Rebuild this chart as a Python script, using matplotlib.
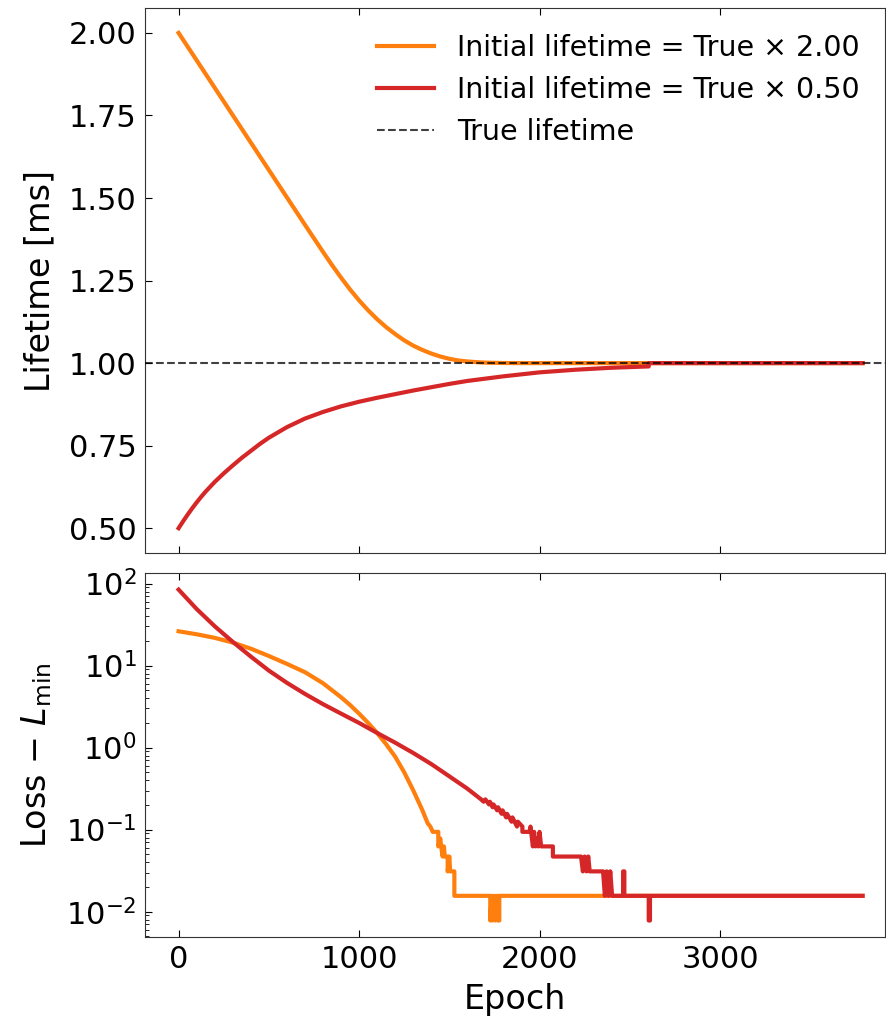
import matplotlib
matplotlib.use("Agg")
import matplotlib.pyplot as plt

orange = 'tab:orange'
red = 'tab:red'

# lifetime vs epoch (top panel)
ep_life_hi = [0, 200, 400, 600, 700, 800, 850, 900, 950, 1000, 1050, 1100, 1150,
              1200, 1250, 1300, 1350, 1400, 1450, 1500, 1550, 1600, 1650, 1700,
              1800, 1900, 3790]
life_hi = [2.000, 1.834, 1.668, 1.502, 1.419, 1.337, 1.297, 1.259, 1.223, 1.190,
           1.160, 1.133, 1.109, 1.088, 1.069, 1.053, 1.040, 1.029, 1.020, 1.013,
           1.008, 1.005, 1.003, 1.0015, 1.0003, 1.000, 1.000]

ep_life_lo = [0, 25, 50, 75, 100, 125, 150, 200, 250, 300, 350, 400, 450, 500,
              600, 700, 800, 900, 1000, 1100, 1200, 1300, 1400, 1500, 1600, 1800,
              2000, 2200, 2400, 2605, 2605, 3790]
life_lo = [0.500, 0.521, 0.541, 0.560, 0.578, 0.595, 0.611, 0.640, 0.666, 0.690,
           0.713, 0.734, 0.755, 0.774, 0.806, 0.832, 0.852, 0.869, 0.883, 0.895,
           0.906, 0.917, 0.927, 0.937, 0.946, 0.960, 0.972, 0.980, 0.986, 0.990,
           1.000, 1.000]

true_lifetime = 1.0

# loss - L_min vs epoch (bottom panel)
ep_loss_hi = [0, 100, 200, 300, 400, 500, 600, 700, 800, 900, 950, 1000, 1050,
              1100, 1150, 1200, 1250, 1300, 1350, 1380, 1395, 1408, 1439, 1439,
              1450, 1455, 1463, 1470, 1475, 1491, 1491, 1500, 1505, 1528, 1528,
              1727, 1727, 1735, 1740, 1750, 1755, 1765, 1770, 1777, 1777, 3790]
loss_hi = [26.2, 24.1, 21.8, 19.1, 16.1, 13.1, 10.5, 8.32, 6.10, 4.12, 3.31, 2.60,
           2.00, 1.51, 1.10, 0.776, 0.501, 0.302, 0.174, 0.12, 0.109, 0.094,
           0.094, 0.0625, 0.078, 0.0625, 0.047, 0.0625, 0.047, 0.047, 0.031,
           0.047, 0.031, 0.031, 0.0156, 0.0156, 0.0078, 0.0156, 0.0078, 0.0156,
           0.0078, 0.0156, 0.0078, 0.0078, 0.0156, 0.0156]

ep_loss_lo = [0, 100, 200, 300, 400, 500, 600, 700, 800, 900, 1000, 1100, 1200,
              1300, 1400, 1500, 1600, 1676, 1690, 1700, 1720, 1725, 1740, 1745,
              1765, 1770, 1790, 1795, 1815, 1820, 1845, 1850, 1875, 1880, 1905,
              1905, 1944, 1950, 1963, 1970, 1978, 1985, 1993, 2000, 2009, 2074,
              2074, 2230, 2240, 2250, 2260, 2270, 2278, 2352, 2362, 2372, 2382,
              2392, 2402, 2417, 2463, 2463, 2470, 2470, 2605, 2605, 2612, 2612, 3790]
loss_lo = [84.5, 49.0, 30.2, 19.5, 12.9, 8.7, 6.17, 4.52, 3.39, 2.60, 2.00, 1.51,
           1.15, 0.861, 0.631, 0.447, 0.316, 0.234, 0.219, 0.234, 0.203, 0.219,
           0.1875, 0.203, 0.172, 0.1875, 0.156, 0.172, 0.141, 0.156, 0.125, 0.141,
           0.109, 0.125, 0.109, 0.094, 0.094, 0.109, 0.0625, 0.094, 0.0625,
           0.078, 0.0625, 0.094, 0.0625, 0.0625, 0.047, 0.047, 0.031, 0.047,
           0.031, 0.047, 0.031, 0.031, 0.0156, 0.031, 0.0156, 0.031, 0.0156,
           0.0156, 0.0156, 0.031, 0.031, 0.0156, 0.0156, 0.0078, 0.0078, 0.0156,
           0.0156]

fig = plt.figure(figsize=(8.87, 10.18), dpi=100)
ax1 = fig.add_axes([0.1635, 0.4568, 0.8342, 0.5352])
ax2 = fig.add_axes([0.1635, 0.0795, 0.8342, 0.3576], sharex=ax1)

ax1.plot(ep_life_hi, life_hi, color=orange, lw=3, label='Initial lifetime = True \u00d7 2.00')
ax1.plot(ep_life_lo, life_lo, color=red, lw=3, label='Initial lifetime = True \u00d7 0.50')
ax1.axhline(true_lifetime, color='k', ls='--', lw=1.5, alpha=0.75, zorder=5, label='True lifetime')
ax1.set_ylabel('Lifetime [ms]', fontsize=24, labelpad=9)
ax1.legend(loc='upper right', frameon=False, fontsize=20.5)
ax1.set_yticks([0.5, 0.75, 1.0, 1.25, 1.5, 1.75, 2.0])
ax1.yaxis.set_major_formatter(matplotlib.ticker.FormatStrFormatter('%.2f'))
plt.setp(ax1.get_xticklabels(), visible=False)

ax2.plot(ep_loss_hi, loss_hi, color=orange, lw=3)
ax2.plot(ep_loss_lo, loss_lo, color=red, lw=3)
ax2.set_yscale('log')
ax2.set_ylabel(r'Loss $-$ $L_{\rm min}$', fontsize=24, labelpad=9)
ax2.set_xlabel('Epoch', fontsize=24, labelpad=6)
ax2.set_xlim(-186, 3914)
ax2.set_xticks([0, 1000, 2000, 3000])

for ax in (ax1, ax2):
    ax.tick_params(which='both', direction='in', top=True, right=False, labelsize=22, pad=6)
    ax.tick_params(which='major', length=5)
    ax.tick_params(which='minor', length=3)
    for s in ax.spines.values():
        s.set_color('#333333')

fig.align_ylabels([ax1, ax2])
fig.savefig('out.png', dpi=100)
